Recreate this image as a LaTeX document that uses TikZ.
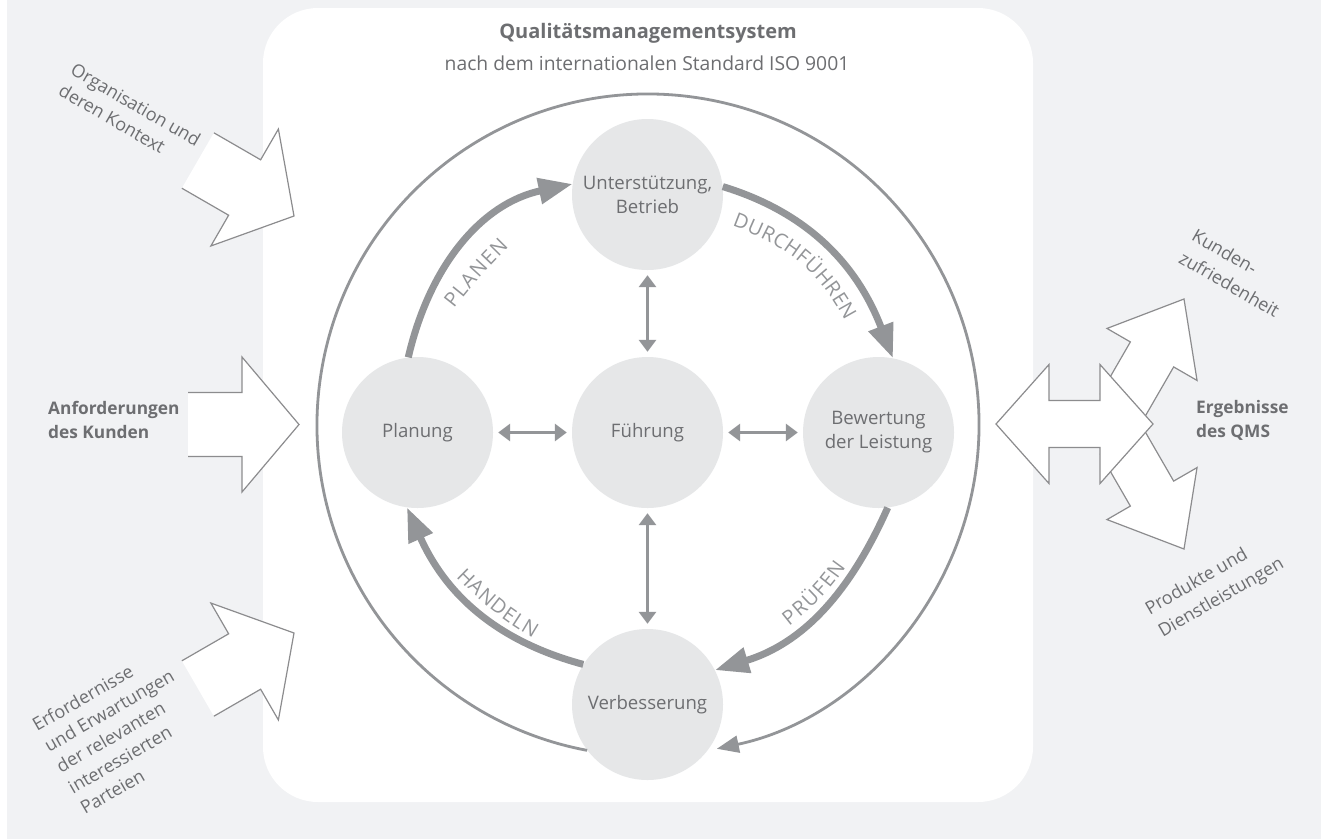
\documentclass[tikz,border=0pt]{standalone}
\usepackage{fontspec}
\setmainfont{Open Sans}
\usetikzlibrary{arrows.meta,decorations.text}

\definecolor{bggray}{HTML}{F1F2F4}
\definecolor{circlegray}{HTML}{E6E7E8}
\definecolor{linegray}{HTML}{939598}
\definecolor{textgray}{HTML}{6D6E71}
\definecolor{edgegray}{HTML}{8C8C8E}

\tikzset{
  stage/.style={circle, fill=circlegray, minimum size=151pt, inner sep=0pt,
    text=textgray, align=center, font=\fontsize{18.6}{24}\selectfont},
  loopline/.style={draw=linegray, line width=7pt, -{Triangle[length=34pt,width=25pt]}},
  link/.style={draw=linegray, line width=3pt, shorten <=5pt, shorten >=5pt,
    {Triangle[length=12pt,width=17pt]}-{Triangle[length=12pt,width=17pt]}},
  block/.style={fill=white, draw=edgegray, line width=1.2pt, line join=miter},
  sidetext/.style={text=textgray, align=left, inner sep=0pt, font=\fontsize{18}{24}\selectfont},
  boldtext/.style={sidetext, anchor=west, font=\bfseries\fontsize{17.3}{24}\selectfont},
  keyword/.style={decorate, decoration={text along path,
    text={|\fontsize{20}{20}\selectfont\color{linegray}|#1}, text align={fit to path}}},
  inarrow/.pic={\path[block] (-111,32) -- (-57,32) -- (-57,67.5) -- (0,0) -- (-57,-67.5) -- (-57,-32) -- (-111,-32);},
  outarrow/.pic={\path[block] (-124,25) -- (-64,25) -- (-64,52) -- (0,0) -- (-64,-52) -- (-64,-25) -- (-124,-25) -- cycle;},
}

\begin{document}
\begin{tikzpicture}[x=1pt, y=1pt]
  \useasboundingbox (0,0) rectangle (1321,-839);
  \fill[bggray] (7,0) rectangle (1321,-839);
  \fill[white, rounded corners=55pt] (263,-8) rectangle (1033,-802);

  \node[text=textgray, font=\bfseries\fontsize{20}{24}\selectfont] (title) at (648,-33) {Qualitätsmanagementsystem};
  \node[text=textgray, font=\fontsize{19.3}{24}\selectfont] (subtitle) at (647,-63) {nach dem internationalen Standard ISO 9001};

  \node[stage] (U) at (647.5,-194.5) {Unterstützung,\\Betrieb};
  \node[stage] (P) at (417.5,-432.5) {Planung};
  \node[stage] (F) at (647.5,-432.5) {Führung};
  \node[stage] (B) at (878.5,-432.5) {Bewertung\\der Leistung};
  \node[stage] (V) at (647.5,-704.5) {Verbesserung};
  \coordinate (Q) at (648,-425);

  % outer loop
  \draw[linegray, line width=2.8pt, -{Triangle[length=22pt,width=17pt]}]
    ([shift={(259.4:331)}]Q) arc[start angle=259.4, end angle=-78, radius=331];

  % PDCA cycle
  \draw[loopline] (P.97) to[out=77, in=192] (U.172);
  \draw[loopline] (U.6) to[out=-17, in=111] (B.79);
  \draw[loopline] (B.-83) to[out=-114, in=17] (V.27);
  \draw[loopline] (V.148) to[out=165, in=-66] (P.-98);

  \path[keyword=PLANEN] (454,-309) to[out=52, in=-135] (509,-247);
  \path[keyword=DURCHFÜHREN] (732,-226) to[out=-20, in=118] (845,-321);
  \path[keyword=PRÜFEN] (789,-626) to[out=38, in=-125] (846,-567);
  \path[keyword=HANDELN] (456,-577) to[out=-45, in=150] (533,-638);

  \draw[link] (U) -- (F);
  \draw[link] (P) -- (F);
  \draw[link] (F) -- (B);
  \draw[link] (F) -- (V);

  % inputs
  \pic[rotate=-30] at (294,-216) {inarrow};
  \pic at (299,-424.5) {inarrow};
  \pic[rotate=30] at (294,-633) {inarrow};

  % outputs
  \pic[rotate=60] at (1184,-299) {outarrow};
  \pic[rotate=-60] at (1184,-549) {outarrow};
  \path[block] (996,-424) -- (1049,-364.5) -- (1049,-400.5) -- (1100,-400.5) -- (1100,-364.5)
    -- (1153,-424) -- (1100,-483.5) -- (1100,-447.5) -- (1049,-447.5) -- (1049,-483.5) -- cycle;

  \node[sidetext, rotate=-30] (org) at (130,-115) {Organisation und\\deren Kontext};
  \node[boldtext] (kunde) at (48,-420) {Anforderungen\\des Kunden};
  \node[sidetext, rotate=30] (parteien) at (121,-731) {Erfordernisse\\und Erwartungen\\der relevanten\\interessierten\\Parteien};
  \node[sidetext, rotate=-30, font=\fontsize{18}{26}\selectfont] (zufrieden) at (1236,-273) {Kunden-\\zufriedenheit};
  \node[boldtext] (ergebnis) at (1196,-420) {Ergebnisse\\des QMS};
  \node[sidetext, rotate=30, font=\fontsize{18}{26}\selectfont] (produkte) at (1215,-587) {Produkte und\\Dienstleistungen};
\end{tikzpicture}
\end{document}
